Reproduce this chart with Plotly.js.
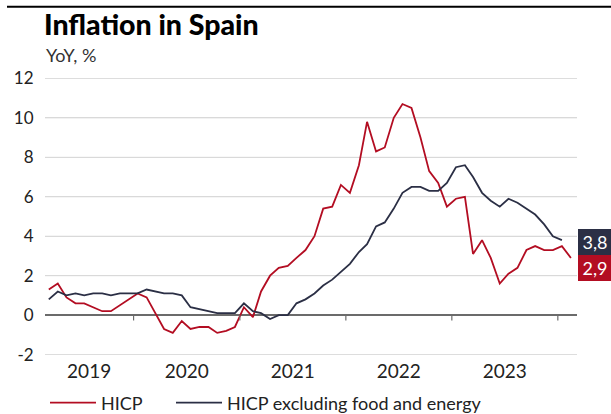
<!DOCTYPE html>
<html>
<head>
<meta charset="utf-8">
<script src="https://cdn.plot.ly/plotly-3.0.1.min.js"></script>
<style>html,body{margin:0;padding:0;background:#fff;}#chart{width:611px;height:414px;}</style>
</head>
<body>
<div id="chart"></div>
<script>
// Months (Mar 2019 - Feb 2024)
const months = [
  '2019-03','2019-04','2019-05','2019-06','2019-07','2019-08','2019-09','2019-10','2019-11','2019-12',
  '2020-01','2020-02','2020-03','2020-04','2020-05','2020-06','2020-07','2020-08','2020-09','2020-10','2020-11','2020-12',
  '2021-01','2021-02','2021-03','2021-04','2021-05','2021-06','2021-07','2021-08','2021-09','2021-10','2021-11','2021-12',
  '2022-01','2022-02','2022-03','2022-04','2022-05','2022-06','2022-07','2022-08','2022-09','2022-10','2022-11','2022-12',
  '2023-01','2023-02','2023-03','2023-04','2023-05','2023-06','2023-07','2023-08','2023-09','2023-10','2023-11','2023-12',
  '2024-01','2024-02'
];
// HICP, YoY %
const hicp = [
  1.3,1.6,0.9,0.6,0.6,0.4,0.2,0.2,0.5,0.8,
  1.1,0.9,0.1,-0.7,-0.9,-0.3,-0.7,-0.6,-0.6,-0.9,-0.8,-0.6,
  0.4,-0.1,1.2,2.0,2.4,2.5,2.9,3.3,4.0,5.4,5.5,6.6,
  6.2,7.6,9.8,8.3,8.5,10.0,10.7,10.5,9.0,7.3,6.7,5.5,
  5.9,6.0,3.1,3.8,2.9,1.6,2.1,2.4,3.3,3.5,3.3,3.3,
  3.5,2.9
];
// HICP excluding food and energy, YoY % (to Jan 2024)
const core = [
  0.8,1.2,1.0,1.1,1.0,1.1,1.1,1.0,1.1,1.1,
  1.1,1.3,1.2,1.1,1.1,1.0,0.4,0.3,0.2,0.1,0.1,0.1,
  0.6,0.2,0.1,-0.2,0.0,0.0,0.6,0.8,1.1,1.5,1.8,2.2,
  2.6,3.2,3.6,4.5,4.7,5.4,6.2,6.5,6.5,6.3,6.3,6.7,
  7.5,7.6,7.0,6.2,5.8,5.5,5.9,5.7,5.4,5.1,4.6,4.0,
  3.8
];
const years = ['2019','2020','2021','2022','2023'];
const yTicks = [-2,0,2,4,6,8,10,12];
const seriesNames = ['HICP','HICP excluding food and energy'];
const colors = {hicp:'#b30d22', core:'#2b2f45'};

const FONT = 'Lato, "Source Sans Pro", sans-serif';
const xRange = ['2019-03-02','2024-03-07'];
const yRange = [-2.02, 12.02];

// x positions: mid-month
const xDates = months.map(m => m + '-15');
const coreDates = xDates.slice(0, core.length);

// year label positions: centre of visible part of each year
function toMs(s){ return new Date(s + 'T00:00:00Z').getTime(); }
const r0 = toMs(xRange[0]), r1 = toMs(xRange[1]);
const yearLabelPos = years.map(y => {
  const a = Math.max(toMs(y + '-01-01'), r0);
  const b = Math.min(toMs((+y + 1) + '-01-01'), r1);
  return new Date((a + b) / 2).toISOString().slice(0, 10);
});
const yearStarts = years.slice(1).map(y => y + '-01-01').concat([(+years[years.length-1] + 1) + '-01-01']);

// grid lines as a background line trace at each y tick (below the data)
const gridX = [], gridY = [];
yTicks.filter(v => v !== 0).forEach(v => { gridX.push(xRange[0], xRange[1], null); gridY.push(v, v, null); });

const traces = [
  {x: gridX, y: gridY, type: 'scatter', mode: 'lines', showlegend: false, legend: 'legend',
   connectgaps: false, line: {color: '#d9d9d9', width: 1}, hoverinfo: 'skip'},
  {x: xDates, y: hicp, name: seriesNames[0], type: 'scatter', mode: 'lines', legend: 'legend',
   line: {color: colors.hicp, width: 1.8}, hoverinfo: 'skip'},
  {x: coreDates, y: core, name: seriesNames[1], type: 'scatter', mode: 'lines', legend: 'legend2',
   line: {color: colors.core, width: 1.8}, hoverinfo: 'skip'}
];

const L = 45, R = 34, T = 78, B = 59, W = 611, H = 414;
const pw = W - L - R, ph = H - T - B;
function px2paperX(px){ return (px - L) / pw; }
function px2paperY(py){ return (H - B - py) / ph; }

// tick marks on the zero line at year boundaries
const tickShapes = yearStarts.map(d => ({
  type: 'line', xref: 'x', yref: 'y', x0: d, x1: d, y0: 0, y1: -0.27,
  line: {color: '#6b6b6b', width: 1.2}, layer: 'above'
}));

const legendBase = {orientation: 'h', xanchor: 'left', yref: 'container', y: 1 - 403/H, yanchor: 'middle',
  font: {family: FONT, size: 18, color: '#222'}, itemwidth: 46, bgcolor: 'rgba(0,0,0,0)'};

const layout = {
  width: W, height: H,
  margin: {l: L, r: R, t: T, b: B, pad: 0, autoexpand: false},
  paper_bgcolor: '#ffffff', plot_bgcolor: '#ffffff',
  font: {family: FONT, color: '#222'},
  title: {text: 'Inflation in Spain', font: {family: FONT, size: 28.5, weight: 900, color: '#000'},
          xref: 'container', x: 44/W, xanchor: 'left', yref: 'container', y: 1 - 15/H, yanchor: 'top'},
  showlegend: true,
  legend: Object.assign({}, legendBase, {x: 0}),
  legend2: Object.assign({}, legendBase, {x: px2paperX(171)}),
  xaxis: {type: 'date', range: xRange, tickmode: 'array', tickvals: yearLabelPos, ticktext: years,
          ticks: '', showgrid: false, zeroline: false, showline: false,
          tickfont: {family: FONT, size: 19, color: '#222'}, ticklabelstandoff: 3, fixedrange: true},
  yaxis: {range: yRange, tickmode: 'array', tickvals: yTicks, ticktext: yTicks.map(String),
          showgrid: true, gridcolor: '#d9d9d9', gridwidth: 1,
          zeroline: true, zerolinecolor: '#6b6b6b', zerolinewidth: 1.5, showline: false,
          ticks: 'outside', ticklen: 7, tickcolor: 'rgba(0,0,0,0)',
          tickfont: {family: FONT, size: 17, color: '#222'}, fixedrange: true},
  shapes: [
    {type: 'line', xref: 'paper', yref: 'paper', x0: px2paperX(7), x1: px2paperX(611), y0: px2paperY(6.7), y1: px2paperY(6.7),
     line: {color: '#000', width: 2}}
  ].concat(tickShapes),
  annotations: [
    {text: 'YoY, %', xref: 'paper', yref: 'paper', x: px2paperX(44), y: px2paperY(55), xanchor: 'left', yanchor: 'middle',
     showarrow: false, font: {family: FONT, size: 18, color: '#333'}},
    {text: core[core.length-1].toFixed(1).replace('.', ','), xref: 'paper', yref: 'y', x: 1, xshift: 1,
     y: core[core.length-1], yshift: -2, xanchor: 'left', yanchor: 'middle', showarrow: false,
     bgcolor: colors.core, borderwidth: 0, borderpad: 0, width: 34, height: 26,
     font: {family: FONT, size: 18, color: '#fff'}},
    {text: hicp[hicp.length-1].toFixed(1).replace('.', ','), xref: 'paper', yref: 'y', x: 1, xshift: 1,
     y: hicp[hicp.length-1], yshift: -10, xanchor: 'left', yanchor: 'middle', showarrow: false,
     bgcolor: colors.hicp, borderwidth: 0, borderpad: 0, width: 34, height: 26,
     font: {family: FONT, size: 18, color: '#fff'}}
  ]
};

Plotly.newPlot('chart', traces, layout, {displayModeBar: false, staticPlot: true});
</script>
</body>
</html>
